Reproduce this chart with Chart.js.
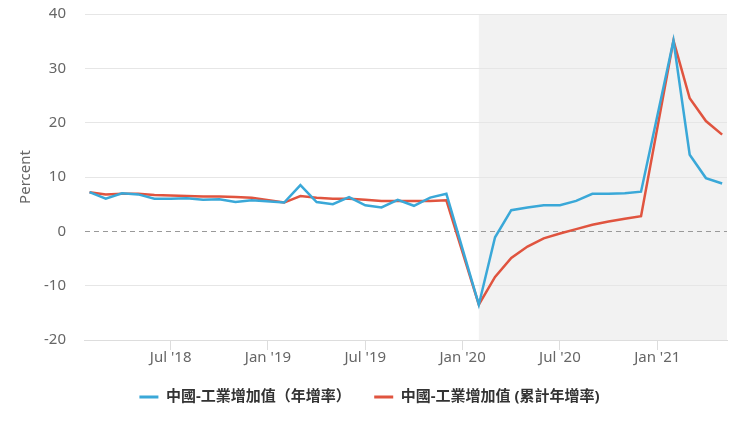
<!DOCTYPE html>
<html>
<head>
<meta charset="utf-8">
<script src="https://cdn.jsdelivr.net/npm/chart.js@4.4.0/dist/chart.umd.min.js"></script>
<style>
  html, body { margin: 0; padding: 0; background: #fff; }
  #wrap { width: 740px; height: 431px; }
</style>
</head>
<body>
<div id="wrap"><canvas id="ipChart" width="740" height="431"></canvas></div>
<script>
// ==== Data ====
const months = [
  "2018-02", "2018-03", "2018-04", "2018-05", "2018-06", "2018-07", "2018-08",
  "2018-09", "2018-10", "2018-11", "2018-12",
  "2019-02", "2019-03", "2019-04", "2019-05", "2019-06", "2019-07", "2019-08",
  "2019-09", "2019-10", "2019-11", "2019-12",
  "2020-02", "2020-03", "2020-04", "2020-05", "2020-06", "2020-07", "2020-08",
  "2020-09", "2020-10", "2020-11", "2020-12",
  "2021-02", "2021-03", "2021-04", "2021-05"
];
const yoy = [
  7.2, 6.0, 7.0, 6.8, 6.0, 6.0, 6.1, 5.8, 5.9, 5.4, 5.7,
  5.3, 8.5, 5.4, 5.0, 6.3, 4.8, 4.4, 5.8, 4.7, 6.2, 6.9,
  -13.5, -1.1, 3.9, 4.4, 4.8, 4.8, 5.6, 6.9, 6.9, 7.0, 7.3,
  35.1, 14.1, 9.8, 8.8
];
const ytd = [
  7.2, 6.8, 6.9, 6.9, 6.7, 6.6, 6.5, 6.4, 6.4, 6.3, 6.2,
  5.3, 6.5, 6.2, 6.0, 6.0, 5.8, 5.6, 5.6, 5.6, 5.6, 5.7,
  -13.5, -8.4, -4.9, -2.8, -1.3, -0.4, 0.4, 1.2, 1.8, 2.3, 2.8,
  35.1, 24.5, 20.3, 17.8
];
const tickMonths = ["2018-07", "2019-01", "2019-07", "2020-01", "2020-07", "2021-01"];
const shadeFrom = "2020-02";
const seriesNames = ["中國-工業增加值（年增率）", "中國-工業增加值 (累計年增率)"];

// month string -> months since Jan 2018
function monthIndex(m) {
  const [y, mo] = m.split("-").map(Number);
  return (y - 2018) * 12 + (mo - 1);
}
function monthLabel(i) {
  const y = 2018 + Math.floor(i / 12);
  const mo = i % 12;
  const names = ["Jan", "Feb", "Mar", "Apr", "May", "Jun", "Jul", "Aug", "Sep", "Oct", "Nov", "Dec"];
  return names[mo] + " '" + String(y).slice(2);
}

const blue = "#3aa8d8";
const red = "#e0543f";
const font = "'Noto Sans', 'Noto Sans CJK TC', sans-serif";

// ==== Plugins ====
const shadePlugin = {
  id: "shade",
  beforeDraw(chart) {
    const { ctx, chartArea, scales } = chart;
    const x0 = scales.x.getPixelForValue(monthIndex(shadeFrom));
    ctx.save();
    ctx.fillStyle = "#f2f2f2";
    ctx.fillRect(x0, chartArea.top, chartArea.right - x0, chartArea.bottom - chartArea.top);
    ctx.restore();
  },
  beforeDatasetsDraw(chart) {
    const { ctx, chartArea, scales } = chart;
    const y0 = Math.round(scales.y.getPixelForValue(0)) + 0.5;
    ctx.save();
    ctx.strokeStyle = "#999";
    ctx.lineWidth = 1;
    ctx.setLineDash([5, 4]);
    ctx.beginPath();
    ctx.moveTo(chartArea.left, y0);
    ctx.lineTo(chartArea.right, y0);
    ctx.stroke();
    ctx.restore();
  }
};

// ==== Chart ====
const ctx = document.getElementById("ipChart").getContext("2d");
new Chart(ctx, {
  type: "line",
  data: {
    datasets: [
      {
        label: seriesNames[0],
        data: months.map((m, i) => ({ x: monthIndex(m), y: yoy[i] })),
        borderColor: blue,
        backgroundColor: blue,
        borderWidth: 2.5,
        pointRadius: 0,
        pointHoverRadius: 0,
        tension: 0
      },
      {
        label: seriesNames[1],
        data: months.map((m, i) => ({ x: monthIndex(m), y: ytd[i] })),
        borderColor: red,
        backgroundColor: red,
        borderWidth: 2.5,
        pointRadius: 0,
        pointHoverRadius: 0,
        tension: 0
      }
    ]
  },
  options: {
    responsive: false,
    animation: false,
    layout: { autoPadding: false, padding: { top: 14, right: 13, left: 12, bottom: 16.5 } },
    plugins: {
      tooltip: { enabled: false },
      legend: {
        position: "bottom",
        labels: {
          boxWidth: 19,
          boxHeight: 3,
          padding: 23.5,
          color: "#333",
          font: { family: font, size: 15, weight: "bold" },
          generateLabels(chart) {
            return chart.data.datasets.map((ds, i) => ({
              text: ds.label,
              fillStyle: ds.borderColor,
              strokeStyle: ds.borderColor,
              lineWidth: 0,
              datasetIndex: i,
              fontColor: "#333"
            }));
          }
        }
      }
    },
    scales: {
      x: {
        type: "linear",
        min: 0.72,
        max: 40.3,
        afterBuildTicks(axis) {
          axis.ticks = tickMonths.map(m => ({ value: monthIndex(m) }));
        },
        ticks: {
          color: "#666",
          font: { family: font, size: 15 },
          padding: -1,
          maxRotation: 0,
          autoSkip: false,
          callback: v => monthLabel(v)
        },
        grid: {
          drawOnChartArea: false,
          drawTicks: true,
          tickLength: 10,
          tickColor: "#ddd"
        },
        border: { color: "#ddd" }
      },
      y: {
        min: -20,
        max: 40,
        ticks: {
          stepSize: 10,
          color: "#666",
          font: { family: font, size: 15 },
          padding: 3
        },
        grid: {
          drawTicks: true,
          tickLength: 16,
          tickColor: "rgba(0,0,0,0)",
          color: c => (c.tick && c.tick.value === 0 ? "rgba(0,0,0,0)" : "#e6e6e6")
        },
        border: { display: false },
        title: {
          display: true,
          text: "Percent",
          color: "#666",
          font: { family: font, size: 15 },
          padding: { top: 5, bottom: 6 }
        }
      }
    }
  },
  plugins: [shadePlugin]
});
</script>
</body>
</html>
